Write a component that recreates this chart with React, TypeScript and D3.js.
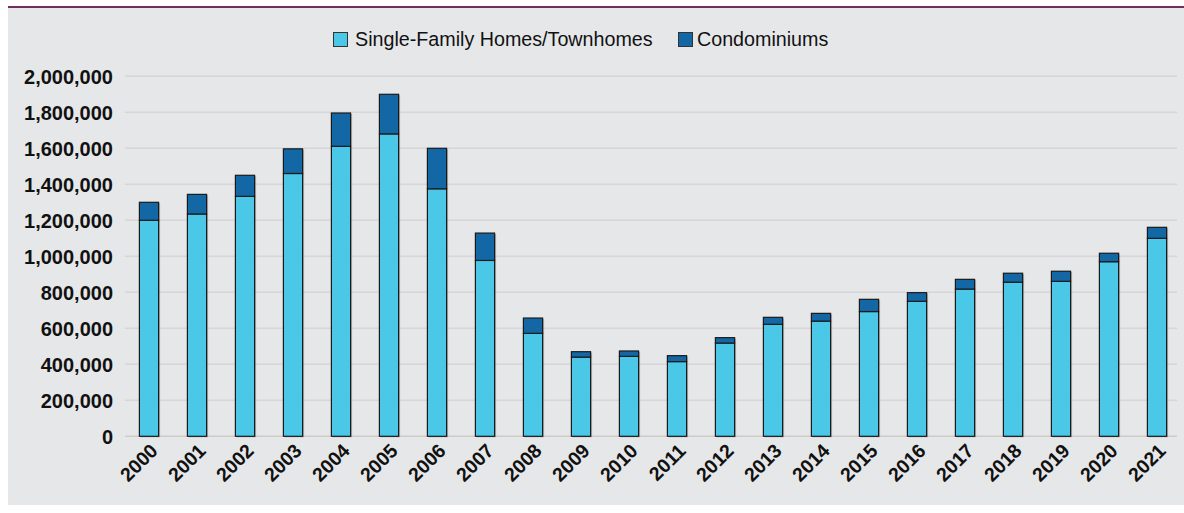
import React from "react";
import * as d3 from "d3";

const years = ["2000","2001","2002","2003","2004","2005","2006","2007","2008","2009","2010","2011","2012","2013","2014","2015","2016","2017","2018","2019","2020","2021"];
const singleFamily = [1200000, 1235000, 1333000, 1460000, 1611000, 1680000, 1375000, 977000, 572000, 440000, 444000, 415000, 518000, 622000, 640000, 693000, 750000, 818000, 856000, 861000, 970000, 1100000];
const condominiums = [100000, 109000, 117000, 137000, 185000, 220000, 225000, 152000, 85000, 30000, 30000, 33000, 30000, 39000, 43000, 68000, 48000, 54000, 50000, 56000, 47000, 61000];
const yTicks = [0, 200000, 400000, 600000, 800000, 1000000, 1200000, 1400000, 1600000, 1800000, 2000000];
const seriesNames = ["Single-Family Homes/Townhomes", "Condominiums"];

const W = 1184, H = 513;
const COL_SF = "#4bc8e8";
const COL_CONDO = "#1467a5";
const BG = "#e6e7e9";

export default function App() {
  const x = d3.scaleBand<string>().domain(years).range([125, 1181]).paddingInner(0.6).paddingOuter(0.3);
  const y = d3.scaleLinear().domain([0, 2000000]).range([436.3, 76.3]);
  const fmt = d3.format(",");
  const bw = x.bandwidth();
  const font = "'Liberation Sans', Arial, sans-serif";

  return (
    <svg width={W} height={H} style={{ position: "absolute", left: 0, top: 0 }} fontFamily={font}>
      <rect x={0} y={0} width={W} height={H} fill="#ffffff" />
      <rect x={8} y={8} width={W - 8} height={497} fill={BG} />
      <line x1={8} x2={W} y1={7} y2={7} stroke="#6e2f5e" strokeWidth={2} />

      {/* legend */}
      <rect x={333.5} y={32.5} width={14} height={14} fill={COL_SF} stroke="#333" strokeWidth={1} />
      <text x={355} y={46} fontSize={19.7} fill="#111">{seriesNames[0]}</text>
      <rect x={678.5} y={32.5} width={14} height={14} fill={COL_CONDO} stroke="#333" strokeWidth={1} />
      <text x={697} y={46} fontSize={19.7} fill="#111">{seriesNames[1]}</text>

      {/* grid */}
      {yTicks.map((t) => (
        <g key={t}>
          <line x1={125} x2={1177} y1={y(t)} y2={y(t)} stroke={t === 0 ? "#cfcbc9" : "#d6d6d8"} strokeWidth={1.5} />
          <text x={113} y={y(t)} dy="0.36em" textAnchor="end" fontSize={20} fontWeight="bold" fill="#111">{fmt(t)}</text>
        </g>
      ))}

      {/* bars */}
      {years.map((yr, i) => {
        const x0 = x(yr)!;
        const sf = singleFamily[i];
        const tot = sf + condominiums[i];
        return (
          <g key={yr}>
            <rect x={x0 + 1.5} y={y(tot) + 1} width={bw} height={y(0) - y(tot)} fill="#555" opacity={0.35} />
            <rect x={x0} y={y(sf)} width={bw} height={y(0) - y(sf)} fill={COL_SF} stroke="#1a1a1a" strokeWidth={1.2} />
            <rect x={x0} y={y(tot)} width={bw} height={y(sf) - y(tot)} fill={COL_CONDO} stroke="#1a1a1a" strokeWidth={1.2} />
          </g>
        );
      })}

      {/* x labels */}
      {years.map((yr) => {
        const cx = x(yr)! + bw / 2;
        return (
          <text key={yr} transform={`translate(${cx + 10},${452}) rotate(-45)`} textAnchor="end" fontSize={19.5} fontWeight="bold" fill="#111">{yr}</text>
        );
      })}
    </svg>
  );
}
